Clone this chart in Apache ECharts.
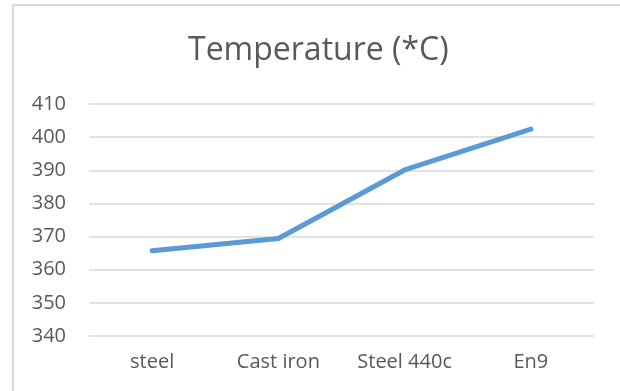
<!DOCTYPE html>
<html>
<head>
<meta charset="utf-8">
<script src="https://cdn.jsdelivr.net/npm/echarts@6/dist/echarts.min.js"></script>
<style>
html,body{margin:0;padding:0;background:#fff;}
#chart{width:620px;height:391px;}
</style>
</head>
<body>
<div id="chart"></div>
<script>
const categories = ['steel', 'Cast iron', 'Steel 440c', 'En9'];
const temperatures = [365.7, 369.4, 390.1, 402.4];
const titleText = 'Temperature (*C)';

const chart = echarts.init(document.getElementById('chart'), null, {renderer: 'canvas'});
chart.setOption({
  animation: false,
  backgroundColor: '#ffffff',
  title: {
    text: titleText,
    left: 183,
    top: 30,
    textStyle: {fontFamily: 'Open Sans', fontSize: 32, fontWeight: 'normal', color: '#595959'}
  },
  graphic: [
    {type: 'line', shape: {x1: 13, y1: 5, x2: 13, y2: 391}, style: {stroke: '#d9d9d9', lineWidth: 2}},
    {type: 'line', shape: {x1: 13, y1: 5, x2: 620, y2: 5}, style: {stroke: '#d9d9d9', lineWidth: 2}}
  ],
  grid: {left: 89, right: 26, top: 104, bottom: 55},
  xAxis: {
    type: 'category',
    data: categories,
    boundaryGap: true,
    axisLine: {show: false},
    axisTick: {show: false},
    axisLabel: {fontFamily: 'Open Sans', fontSize: 20, color: '#595959', margin: 16}
  },
  yAxis: {
    type: 'value',
    min: 340,
    max: 410,
    interval: 10,
    axisLine: {show: false},
    axisTick: {show: false},
    axisLabel: {fontFamily: 'Open Sans', fontSize: 20, color: '#595959', margin: 23},
    splitLine: {lineStyle: {color: '#d9d9d9', width: 1.5}}
  },
  series: [{
    type: 'line',
    data: temperatures,
    symbol: 'none',
    lineStyle: {color: '#5b9bd5', width: 5, cap: 'round', join: 'round'}
  }]
});
</script>
</body>
</html>
